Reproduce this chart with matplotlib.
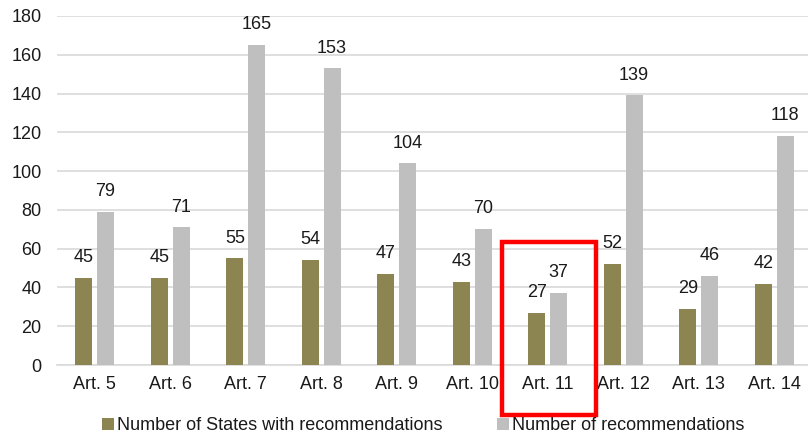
import matplotlib
matplotlib.use("Agg")
import matplotlib.pyplot as plt
import matplotlib.patches as mpatches
import numpy as np

# data
articles = ["Art. 5", "Art. 6", "Art. 7", "Art. 8", "Art. 9",
            "Art. 10", "Art. 11", "Art. 12", "Art. 13", "Art. 14"]
states_with_recs = [45, 45, 55, 54, 47, 43, 27, 52, 29, 42]
num_recs = [79, 71, 165, 153, 104, 70, 37, 139, 46, 118]
highlight = "Art. 11"

plt.rcParams['font.family'] = ['Liberation Sans', 'DejaVu Sans']
olive = '#8c8551'
grey = '#bfbfbf'
txt = '#1a1a1a'
fs = 13

fig = plt.figure(figsize=(8.08, 4.37), dpi=100)
ax = fig.add_axes([57 / 808, 1 - 365 / 437, 755 / 808, 349 / 437])

x = np.arange(len(articles))
w = 0.225
off = 0.143
b1 = ax.bar(x - off, states_with_recs, w, color=olive, zorder=3,
            label="Number of States with recommendations")
b2 = ax.bar(x + off, num_recs, w, color=grey, zorder=3,
            label="Number of recommendations")

for bars, vals in [(b1, states_with_recs), (b2, num_recs)]:
    for r, v in zip(bars, vals):
        ax.annotate(str(v), (r.get_x() + r.get_width() / 2, v),
                    xytext=(0, 8.5), textcoords='offset points',
                    ha='center', va='bottom', fontsize=fs, color=txt)

ax.set_xlim(-0.5, len(articles) - 0.5)
ax.set_ylim(0, 180)
ax.set_yticks(range(0, 181, 20))
ax.set_xticks(x)
ax.set_xticklabels(articles)
ax.tick_params(axis='both', length=0, labelsize=fs, colors=txt)
ax.tick_params(axis='y', pad=11)
ax.tick_params(axis='x', pad=8)
ax.yaxis.grid(True, color='#d9d9d9', linewidth=1.2, zorder=0)
for s in ['top', 'right', 'left']:
    ax.spines[s].set_visible(False)
ax.spines['bottom'].set_color('#d9d9d9')
ax.spines['bottom'].set_linewidth(1.2)

# red highlight box around Art. 11
hi = articles.index(highlight)
rect = mpatches.Rectangle((hi - 0.6, -26), 1.24, 89.5, fill=False,
                          edgecolor='#ff0000', linewidth=3.2,
                          clip_on=False, zorder=5)
ax.add_patch(rect)

fig.legend(loc='center', bbox_to_anchor=(0.524, 1 - 426 / 437), ncol=2,
           frameon=False, fontsize=fs, handlelength=0.65, handleheight=0.65,
           handletextpad=0.2, columnspacing=3.0, labelcolor=txt)

fig.savefig("out.png", dpi=100)
